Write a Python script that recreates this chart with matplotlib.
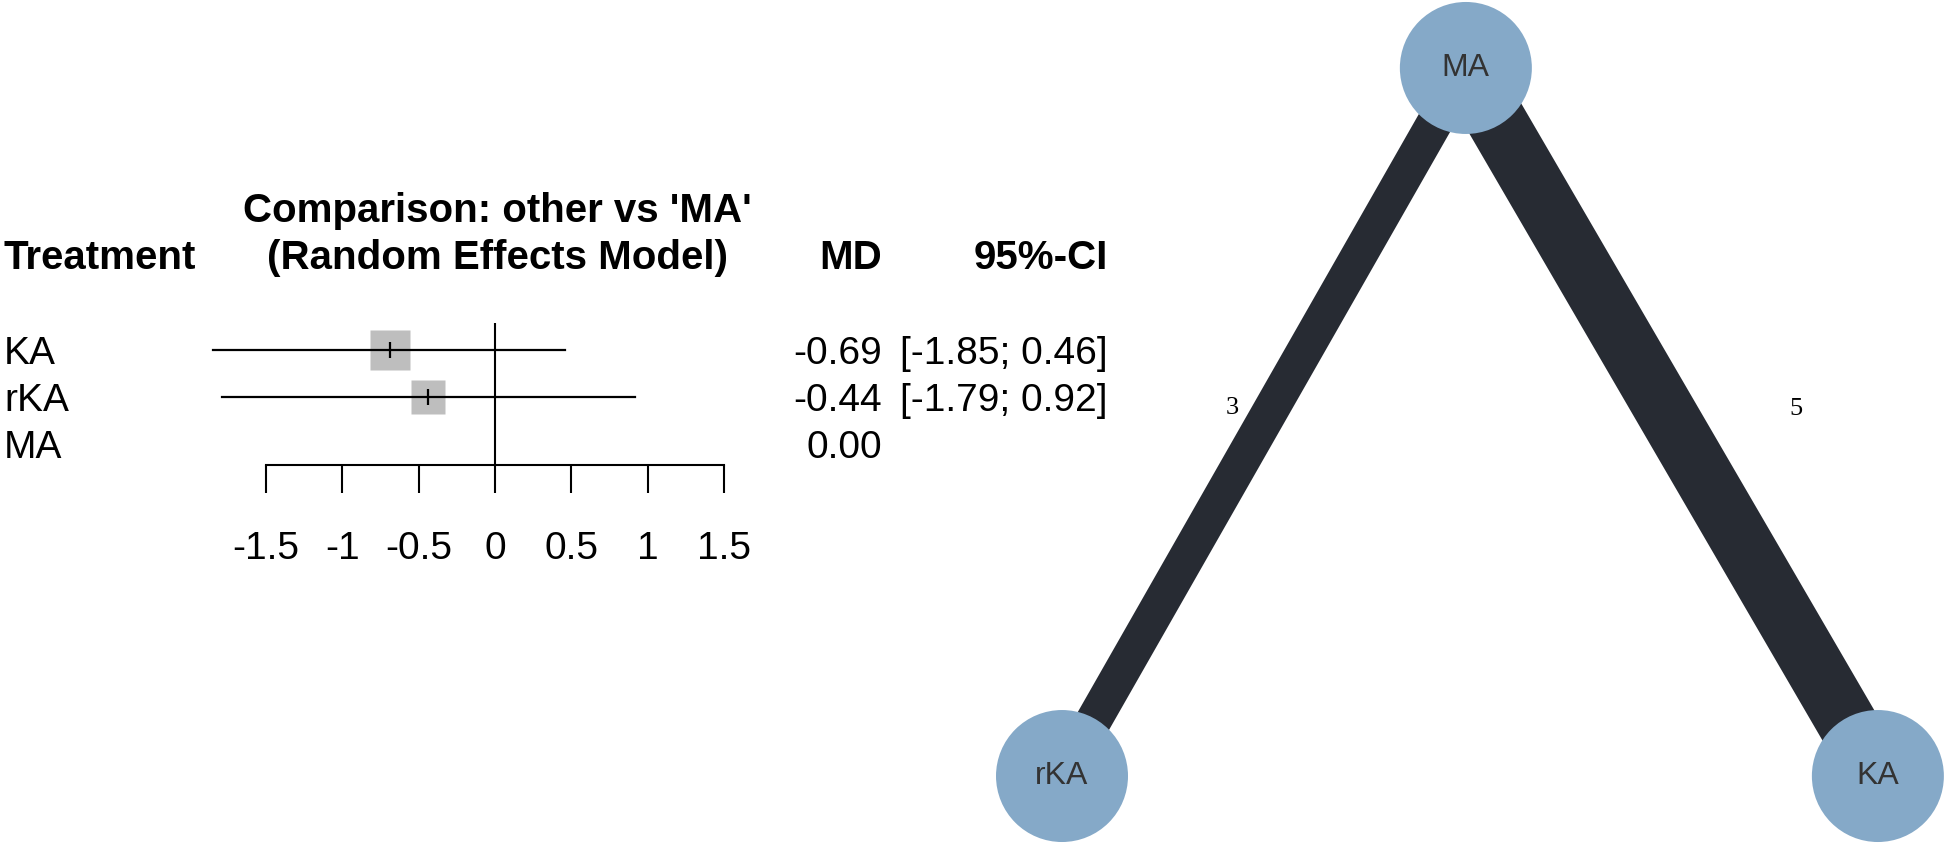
import matplotlib
matplotlib.use('Agg')
import matplotlib.pyplot as plt
import matplotlib.transforms as mtransforms

# forest plot data (other vs 'MA', random effects)
treatments = ['KA', 'rKA', 'MA']
md = [-0.69, -0.44, 0.00]
ci_low = [-1.85, -1.79, None]
ci_high = [0.46, 0.92, None]
xticks = [-1.5, -1, -0.5, 0, 0.5, 1, 1.5]
xtick_labels = ['-1.5', '-1', '-0.5', '0', '0.5', '1', '1.5']

# network graph data
nodes = ['MA', 'rKA', 'KA']
edges = [('rKA', 'MA'), ('MA', 'KA')]
n_studies = [3, 5]

W, H = 1946, 843
plt.rcParams['font.family'] = ['Liberation Sans', 'DejaVu Sans']
fig = plt.figure(figsize=(W / 100, H / 100), dpi=100)

# ---------------- forest plot ----------------
ax = fig.add_axes([266 / W, 1 - 465 / H, 458 / W, 142 / H])
ax.set_xlim(-1.5, 1.5)
ax.set_ylim(3.447, 0.426)
rows = list(range(1, len(treatments) + 1))

for r, m, lo, hi in zip(rows, md, ci_low, ci_high):
    if lo is None:
        continue
    se = (hi - lo) / (2 * 1.96)
    side = 23.2 / se * 0.72  # square side in points, ~ 1/SE
    ax.plot([m], [r], marker='s', ms=side, color='#bebebe', mec='none',
            zorder=2, clip_on=False)
    ax.plot([lo, hi], [r, r], color='black', lw=1.6, zorder=3, clip_on=False)
    ax.plot([m], [r], marker='|', ms=12, mew=1.6, color='black', zorder=4)

ax.axvline(0, color='black', lw=1.5, zorder=1)
for s in ['top', 'left', 'right']:
    ax.spines[s].set_visible(False)
ax.spines['bottom'].set_bounds(-1.5, 1.5)
ax.spines['bottom'].set_linewidth(1.5)
ax.set_yticks([])
ax.set_xticks(xticks)
ax.set_xticklabels(xtick_labels)
ax.tick_params(axis='x', direction='out', length=20, width=1.5, pad=27.5,
               labelsize=28)
ax.patch.set_visible(False)

# text columns, x in figure pixels, y on the row scale
blend = mtransforms.blended_transform_factory(fig.transFigure, ax.transData)
row_tr = mtransforms.offset_copy(blend, fig=fig, y=-14 * 0.72, units='points')
fs = 28
hfs = 29
for r, t, m, lo, hi in zip(rows, treatments, md, ci_low, ci_high):
    ax.text(4 / W, r, t, transform=row_tr, ha='left', va='baseline', fontsize=fs)
    ax.text(882 / W, r, f'{m:.2f}', transform=row_tr, ha='right',
            va='baseline', fontsize=fs)
    if lo is not None:
        ax.text(1108 / W, r, f'[{lo:.2f}; {hi:.2f}]', transform=row_tr,
                ha='right', va='baseline', fontsize=fs)

fig.text(497 / W, 1 - 222 / H, "Comparison: other vs 'MA'", ha='center',
         va='baseline', fontsize=hfs, fontweight='bold')
fig.text(497 / W, 1 - 269 / H, '(Random Effects Model)', ha='center',
         va='baseline', fontsize=hfs, fontweight='bold')
fig.text(4 / W, 1 - 269 / H, 'Treatment', ha='left', va='baseline',
         fontsize=hfs, fontweight='bold')
fig.text(882 / W, 1 - 269 / H, 'MD', ha='right', va='baseline',
         fontsize=hfs, fontweight='bold')
fig.text(1108 / W, 1 - 269 / H, '95%-CI', ha='right', va='baseline',
         fontsize=hfs, fontweight='bold')

# ---------------- network graph ----------------
layout = {'MA': (-0.01, 1.0), 'rKA': (-1.0, 0.0), 'KA': (1.0, 0.0)}
label_pos = {('rKA', 'MA'): (-0.583, 0.52), ('MA', 'KA'): (0.80, 0.518)}

nx_ax = fig.add_axes([1000 / W, 0, 946 / W, 1])
nx_ax.set_xlim(-1.152, 1.167)
nx_ax.set_ylim(-0.0946, 1.096)
nx_ax.axis('off')

for (a, b), n in zip(edges, n_studies):
    xa, ya = layout[a]
    xb, yb = layout[b]
    nx_ax.plot([xa, xb], [ya, yb], color='#272b33', lw=n * 12 * 0.72,
               solid_capstyle='butt', zorder=1)
    lx, ly = label_pos[(a, b)]
    nx_ax.text(lx, ly, str(n), ha='center', va='center', fontsize=19,
               family='Liberation Serif', color='black')

xs = [layout[k][0] for k in nodes]
ys = [layout[k][1] for k in nodes]
nx_ax.scatter(xs, ys, s=(132 * 0.72) ** 2, color='#85a9c8', edgecolors='none',
              zorder=3, clip_on=False)
for k in nodes:
    nx_ax.text(layout[k][0], layout[k][1], k, ha='center', va='center',
               fontsize=23, color='#333333', zorder=4)

fig.savefig('out.png', dpi=100, facecolor='white')
